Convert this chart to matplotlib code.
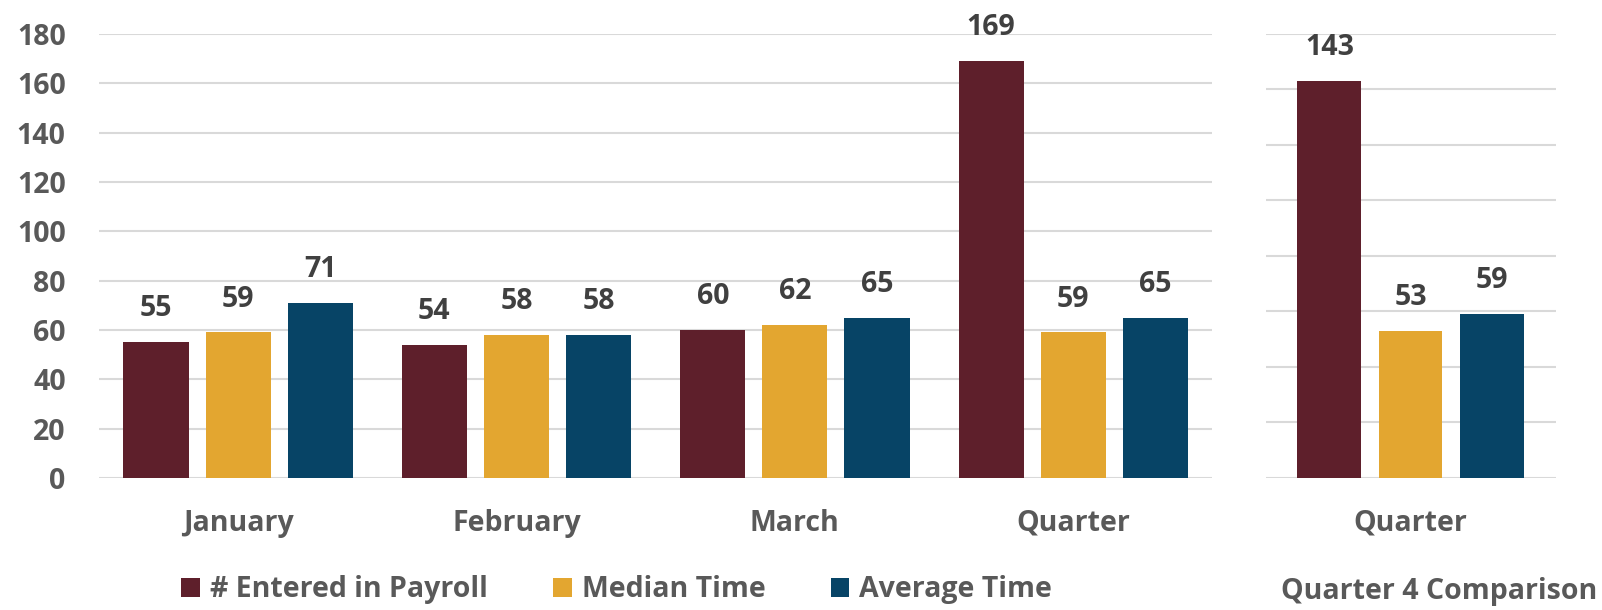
import numpy as np
import matplotlib
matplotlib.use("Agg")
import matplotlib.pyplot as plt

plt.rcParams["font.family"] = ["Open Sans", "DejaVu Sans"]
plt.rcParams["font.weight"] = "bold"

MESES = ["January", "February", "March", "Quarter"]
SERIES = ["# Entered in Payroll", "Median Time", "Average Time"]
ENTRADAS = [55, 54, 60, 169]
MEDIANA = [59, 58, 62, 59]
MEDIA = [71, 58, 65, 65]

Q4_CAT = ["Quarter"]
Q4_VALORES = [143, 53, 59]

CORES = ["#5E1F2B", "#E3A630", "#074466"]
CINZA = "#595959"
ESCURO = "#404040"
GRADE = "#D9D9D9"
TAM = 20.5


def estilo(ax, ymax, passo, rotulos_y=True):
    ax.set_ylim(0, ymax)
    ax.set_yticks(np.arange(0, ymax + 1, passo))
    ax.grid(True, axis="y", color=GRADE, lw=1.5)
    ax.set_axisbelow(True)
    for s in ax.spines.values():
        s.set_visible(False)
    ax.tick_params(axis="both", length=0, colors=CINZA, labelsize=TAM)
    ax.tick_params(axis="x", pad=22)
    if not rotulos_y:
        ax.set_yticklabels([])
    else:
        ax.tick_params(axis="y", pad=24)


def rotula(ax, barras, vals):
    for b, v in zip(barras, vals):
        ax.annotate("%d" % v, (b.get_x() + b.get_width() / 2, b.get_height()),
                    xytext=(0, 24), textcoords="offset points",
                    ha="center", va="center", fontsize=TAM,
                    color=ESCURO, fontweight="bold")


fig = plt.figure(figsize=(16.02, 6.10), dpi=100)
ax = fig.add_axes([0.0618, 0.2164, 0.695, 0.728])
ax2 = fig.add_axes([0.79, 0.2164, 0.181, 0.728])

x = np.arange(len(MESES))
larg = 0.234
desl = 0.295
handles = []
for i, (vals, cor) in enumerate(zip([ENTRADAS, MEDIANA, MEDIA], CORES)):
    b = ax.bar(x + (i - 1) * desl, vals, larg, color=cor, label=SERIES[i])
    rotula(ax, b, vals)
    handles.append(b)
ax.set_xlim(-0.5, len(MESES) - 0.5)
ax.set_xticks(x)
ax.set_xticklabels(MESES)
estilo(ax, 180, 20)

x2 = np.arange(len(Q4_CAT))
for i, (v, cor) in enumerate(zip(Q4_VALORES, CORES)):
    b = ax2.bar(x2 + (i - 1) * 0.28, [v], 0.22, color=cor)
    rotula(ax2, b, [v])
ax2.set_xlim(-0.5, 0.5)
ax2.set_xticks(x2)
ax2.set_xticklabels(Q4_CAT)
estilo(ax2, 160, 20, rotulos_y=False)

fig.legend(handles, SERIES, loc="center", bbox_to_anchor=(0.385, 0.033),
           ncol=3, frameon=False, fontsize=TAM, handlelength=0.65,
           handleheight=0.65, handletextpad=0.35, columnspacing=2.3,
           labelcolor=CINZA)
fig.text(0.997, 0.03, "Quarter 4 Comparison", ha="right", va="center",
         fontsize=20.5, color=CINZA, fontweight="bold")

fig.savefig("out.png", dpi=100)
